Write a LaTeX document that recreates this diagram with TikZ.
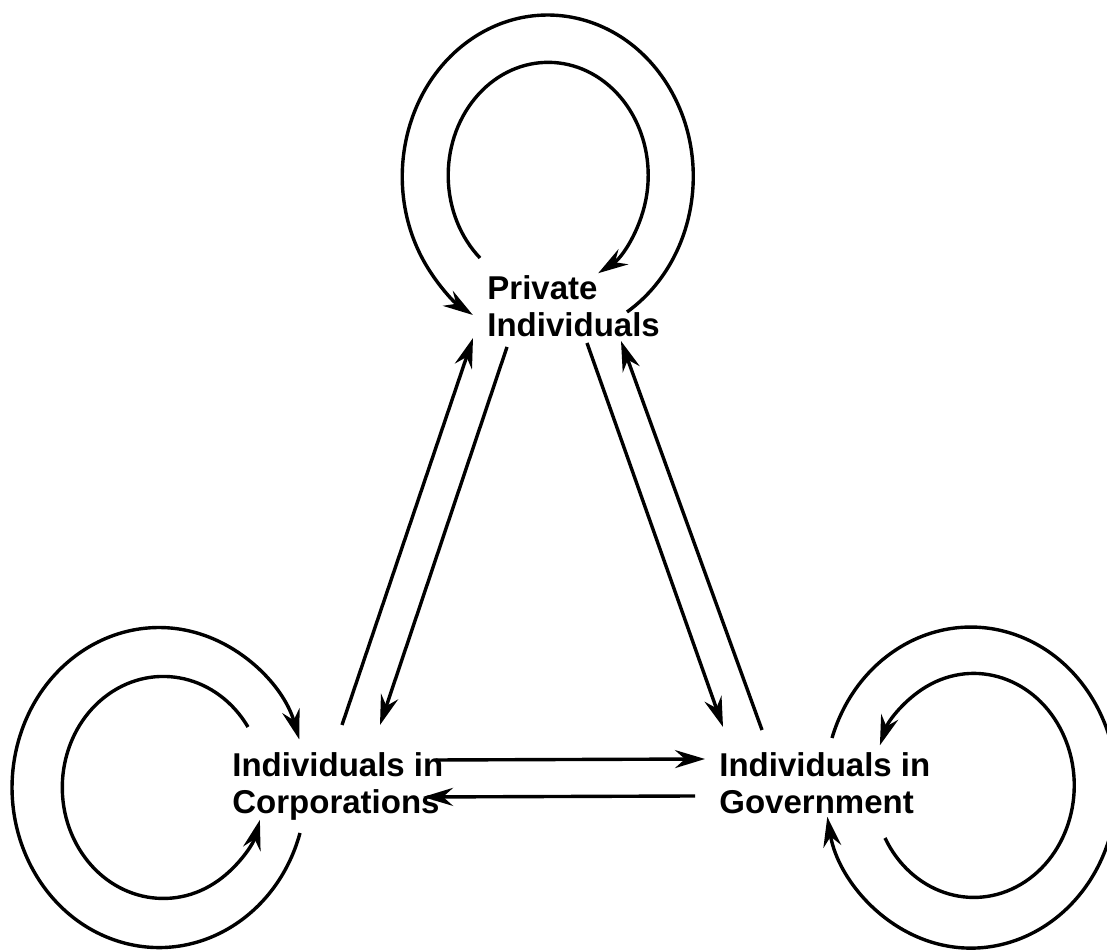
\documentclass[tikz,border=0pt]{standalone}
\usepackage{fontspec}
\setmainfont{Liberation Sans}
\usetikzlibrary{arrows.meta}

\tikzset{
  actor/.style={anchor=north west, inner sep=0pt, align=left,
    font=\fontsize{16.5}{18.5}\selectfont\bfseries},
  flow/.style={line width=1.7pt, -{Stealth[length=15pt,width=9pt,inset=5pt]}},
}

\begin{document}
\begin{tikzpicture}[x=0.5pt, y=0.5pt]
            \useasboundingbox (0,0) rectangle (1107,951);

            \node[actor] (priv) at (487,676) {Private\\Individuals};
            \node[actor] (corp) at (232,199) {Individuals in\\Corporations};
            \node[actor] (gov) at (719,199) {Individuals in\\Government};

            \draw[flow] ([shift={(110,27)}]corp.north west) -- ([shift={(-14,-63)}]priv.north west);
            \draw[flow] ([shift={(20,-72)}]priv.north west) -- ([shift={(148,27)}]corp.north west);
            \draw[flow] ([shift={(100,-68)}]priv.north west) -- ([shift={(4,25)}]gov.north west);
            \draw[flow] ([shift={(43,22)}]gov.north west) -- ([shift={(134,-66)}]priv.north west);
            \draw[flow] ([shift={(204,-8)}]corp.north west) -- ([shift={(-14,-7)}]gov.north west);
            \draw[flow] ([shift={(-24,-44)}]gov.north west) -- ([shift={(191,-45)}]corp.north west);

            \draw[flow] ([shift={(140,-37)}]priv.north west)
                arc[start angle=-57, end angle=239, x radius=145.5, y radius=161.5];
            \draw[flow] ([shift={(-7,17)}]priv.north west)
                arc[start angle=227, end angle=-60, x radius=100, y radius=113];

            \draw[flow] ([shift={(68,-81)}]corp.north west)
                arc[start angle=-16.5, end angle=-342.5, x radius=147, y radius=160];
            \draw[flow] ([shift={(16,25)}]corp.north west)
                arc[start angle=33, end angle=343, x radius=101, y radius=111];

            \draw[flow] ([shift={(113,14)}]gov.north west)
                arc[start angle=162, end angle=-169.5, x radius=146, y radius=160.5];
            \draw[flow] ([shift={(166,-86)}]gov.north west)
                arc[start angle=-152, end angle=159, x radius=100.5, y radius=112];
\end{tikzpicture}
\end{document}
